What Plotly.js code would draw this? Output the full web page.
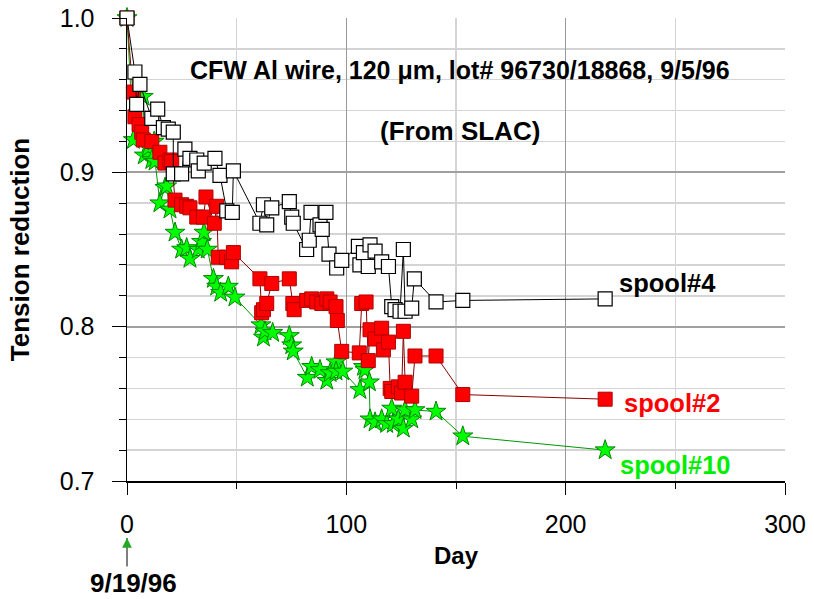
<!DOCTYPE html>
<html>
<head>
<meta charset="utf-8">
<script src="https://cdn.plot.ly/plotly-3.0.1.min.js"></script>
<style>html,body{margin:0;padding:0;background:#fff;}#chart{width:814px;height:599px;}</style>
</head>
<body>
<div id="chart"></div>
<script>
// spool#4 (open squares)
const spool4Day = [0,3.6,4.4,5.9,11.3,14,16.6,18.8,21.1,21.1,24.9,26.4,28.7,31.8,32.5,35.2,40.1,42.4,45.5,48,48.5,60.6,62.2,63.7,66,74,75.1,75.8,81.9,83.1,83.9,88,89,90.7,92.1,95.6,97.9,105.5,106.2,107.8,110,110.8,113.1,116.1,119.2,120.7,122.2,124.5,126,126.8,129.8,131,140.9,153.1,218];
const spool4Val = [1.0,0.965,0.944,0.957,0.935,0.941,0.929,0.928,0.926,0.899,0.899,0.915,0.909,0.908,0.901,0.906,0.909,0.898,0.875,0.874,0.901,0.867,0.879,0.866,0.877,0.881,0.871,0.867,0.850,0.856,0.874,0.866,0.863,0.874,0.847,0.838,0.843,0.852,0.840,0.848,0.839,0.853,0.849,0.842,0.839,0.813,0.811,0.810,0.850,0.810,0.812,0.831,0.816,0.817,0.818];

// spool#2 (red squares)
const spool2Day = [0,2.9,3.6,5.5,6.7,7.4,11.3,15,17.3,19.6,20.4,21.9,24.9,27.2,28.7,31.8,34.8,36,39.8,40.9,41.6,45.4,47.7,48.5,60.6,61.4,62.2,63.7,66,74,75.6,76.2,81.9,84.2,86.5,88.8,91.1,92.6,95.3,95.9,97.9,105.9,107,109,110,110.8,113.1,116.1,116.9,119.2,120,120.7,123.7,125.2,126,126.8,129.8,131.3,140.9,153.1,218];
const spool2Val = [1.0,0.952,0.936,0.931,0.926,0.921,0.920,0.913,0.906,0.908,0.907,0.882,0.879,0.878,0.877,0.871,0.871,0.884,0.867,0.878,0.845,0.845,0.842,0.848,0.831,0.809,0.811,0.815,0.828,0.831,0.815,0.811,0.817,0.818,0.816,0.815,0.818,0.816,0.813,0.804,0.784,0.783,0.815,0.816,0.778,0.798,0.792,0.799,0.785,0.790,0.760,0.758,0.761,0.757,0.797,0.764,0.755,0.781,0.781,0.756,0.753];

// spool#10 (green stars)
const spool10Day = [0,2.9,7.4,7.9,9.7,11.3,12.4,12.8,15,17.3,18.1,19.6,21.9,24.9,27.2,28.7,32.5,34,35.1,36.6,39.4,40.9,42.7,46.2,49.2,61.1,62.2,62.9,66.4,74,75.1,75.8,82.2,84.2,88,91.1,92.6,95.3,95.3,98.4,106.2,107.8,108.5,110.5,110.8,113.1,116.1,118.4,120.7,121.4,123.7,126,126.8,129.8,131.3,140.9,153.1,218];
const spool10Val = [1.0,0.921,0.949,0.911,0.916,0.908,0.920,0.907,0.880,0.890,0.891,0.876,0.861,0.850,0.851,0.844,0.850,0.855,0.861,0.850,0.831,0.826,0.822,0.826,0.819,0.801,0.793,0.797,0.796,0.794,0.788,0.784,0.767,0.774,0.772,0.765,0.770,0.777,0.771,0.771,0.759,0.774,0.772,0.764,0.740,0.738,0.740,0.737,0.747,0.737,0.740,0.734,0.746,0.740,0.746,0.745,0.729,0.720];

const seriesNames = ["spool#4","spool#2","spool#10"];
const xTickVals = [0,100,200,300];
const xTickText = ["0","100","200","300"];
const yTickVals = [0.7,0.8,0.9,1.0];
const yTickText = ["0.7","0.8","0.9","1.0"];

const FONT = "Liberation Sans, Arial, sans-serif";

const traces = [
  {x: spool10Day, y: spool10Val, name: seriesNames[2], mode: "lines+markers", cliponaxis: false,
   line: {color: "#009900", width: 1},
   marker: {symbol: "star", size: 15, color: "#00ff00", line: {color: "#008800", width: 1}}},
  {x: spool2Day, y: spool2Val, name: seriesNames[1], mode: "lines+markers", cliponaxis: false,
   line: {color: "#8b0000", width: 1},
   marker: {symbol: "square", size: 14, color: "#ff0000", line: {color: "#b00000", width: 1}}},
  {x: spool4Day, y: spool4Val, name: seriesNames[0], mode: "lines+markers", cliponaxis: false,
   line: {color: "#000000", width: 1},
   marker: {symbol: "square", size: 14, color: "#ffffff", line: {color: "#000000", width: 1.2}}}
];

const layout = {
  width: 814, height: 599,
  margin: {l: 127, r: 29, t: 18, b: 118, pad: 0},
  paper_bgcolor: "#ffffff", plot_bgcolor: "#ffffff",
  showlegend: false,
  font: {family: FONT, color: "#000"},
  xaxis: {
    range: [0, 300], tickvals: xTickVals, ticktext: xTickText,
    showline: true, linecolor: "#000", linewidth: 1.5, mirror: false,
    ticks: "outside", ticklen: 12, tickcolor: "#000", tickwidth: 1,
    showgrid: true, gridcolor: "#999999", gridwidth: 1.5, zeroline: false,
    tickfont: {size: 25, family: FONT}, ticklabelstandoff: 8,
    minor: {dtick: 50, tick0: 0, ticks: "outside", ticklen: 6, tickcolor: "#000", showgrid: true, gridcolor: "#d4d4d4", gridwidth: 1.5},
    title: {text: "<b>Day</b>", font: {size: 24, family: FONT}, standoff: 10}
  },
  yaxis: {
    range: [0.7, 1.0], tickvals: yTickVals, ticktext: yTickText,
    showline: true, linecolor: "#000", linewidth: 1.5, mirror: false,
    ticks: "outside", ticklen: 14, tickcolor: "#000", tickwidth: 1,
    showgrid: true, gridcolor: "#a0a0a0", gridwidth: 2, zeroline: false,
    tickfont: {size: 25, family: FONT}, ticklabelstandoff: 12,
    minor: {dtick: 0.02, tick0: 0.7, ticks: "outside", ticklen: 7, tickcolor: "#000", showgrid: true, gridcolor: "#d4d4d4", gridwidth: 1.5},
    title: {text: "<b>Tension reduction</b>", font: {size: 26, family: FONT}, standoff: 22}
  },
  annotations: [
    {xref: "x", yref: "y", x: 151.8, y: 0.966, text: "<b>CFW Al wire, 120 μm, lot# 96730/18868, 9/5/96</b>", showarrow: false, font: {size: 25, family: FONT, color: "#000"}},
    {xref: "x", yref: "y", x: 151.8, y: 0.927, text: "<b>(From SLAC)</b>", showarrow: false, font: {size: 26, family: FONT, color: "#000"}},
    {xref: "x", yref: "y", x: 246.2, y: 0.828, text: "<b>spool#4</b>", showarrow: false, font: {size: 25.5, family: FONT, color: "#000"}},
    {xref: "x", yref: "y", x: 248.5, y: 0.7505, text: "<b>spool#2</b>", showarrow: false, font: {size: 25.5, family: FONT, color: "#ff0000"}},
    {xref: "x", yref: "y", x: 249.9, y: 0.7102, text: "<b>spool#10</b>", showarrow: false, font: {size: 25.5, family: FONT, color: "#00ee00"}},
    {xref: "x", yref: "paper", x: 0, y: -0.123, text: "", showarrow: true, axref: "pixel", ayref: "pixel", ax: 0, ay: 30, arrowhead: 0, arrowwidth: 1, arrowcolor: "#000", standoff: 0},
    {xref: "x", yref: "paper", x: 0, y: -0.123, text: "", showarrow: true, axref: "pixel", ayref: "pixel", ax: 0, ay: 8, arrowhead: 2, arrowsize: 1.3, arrowwidth: 1.5, arrowcolor: "#22aa22", standoff: 0},
    {xref: "paper", yref: "paper", x: (133-127)/658, y: (481-583)/463, xanchor: "center", yanchor: "middle", text: "<b>9/19/96</b>", showarrow: false, font: {size: 26, family: FONT, color: "#000"}}
  ]
};

Plotly.newPlot("chart", traces, layout, {displayModeBar: false, staticPlot: true});
</script>
</body>
</html>
